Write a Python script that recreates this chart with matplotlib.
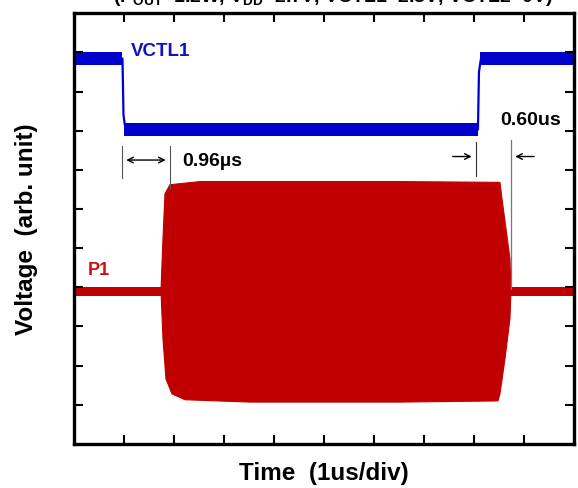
import matplotlib
matplotlib.use('Agg')
import matplotlib.pyplot as plt

plt.rcParams['font.family'] = ['Liberation Sans', 'DejaVu Sans']
plt.rcParams['font.weight'] = 'bold'
plt.rcParams['mathtext.fontset'] = 'custom'
plt.rcParams['mathtext.bf'] = 'Liberation Sans:bold'

# VCTL1 control trace (time in div, voltage in arb. unit)
vctl_t = [0.0, 0.97, 0.99, 1.03, 8.08, 8.10, 8.14, 10.0]
vctl_v = [9.84, 9.84, 8.40, 8.03, 8.03, 9.50, 9.84, 9.84]
vctl_high = 9.84
vctl_low = 8.03
vctl_noise = 0.16

# P1 RF output: idle level and burst envelope
p1_level = 3.90
p1_noise = 0.11
p1_on = 1.74
p1_off = 8.74
env_top_t = [1.74, 1.78, 1.82, 1.92, 2.52, 4.52, 6.52, 8.52, 8.56, 8.64, 8.72, 8.74]
env_top_v = [3.91, 5.24, 6.39, 6.62, 6.70, 6.70, 6.70, 6.68, 6.27, 5.50, 4.73, 3.91]
env_bot_t = [1.74, 1.78, 1.84, 1.96, 2.22, 3.52, 6.52, 8.48, 8.52, 8.62, 8.72, 8.74]
env_bot_v = [3.91, 2.69, 1.66, 1.28, 1.13, 1.07, 1.07, 1.10, 1.28, 2.17, 3.20, 3.91]

# timing marks
delay_on = 0.96
delay_off = 0.60

blue = '#0000CC'
red = '#C00000'

fig = plt.figure(figsize=(5.78, 4.89), dpi=100)
ax = fig.add_axes([0.128, 0.090, 0.865, 0.881])

# burst
ax.fill(env_top_t + env_bot_t[::-1], env_top_v + env_bot_v[::-1], color=red, lw=0.8, ec=red)
# idle parts
for a, b in [(0.0, p1_on + 0.05), (p1_off - 0.05, 10.0)]:
    ax.fill_between([a, b], p1_level - p1_noise, p1_level + p1_noise, color=red, lw=0)

# VCTL1
ax.plot(vctl_t, vctl_v, color=blue, lw=1.6)
ax.fill_between([0.0, 0.97], vctl_high - vctl_noise, vctl_high + vctl_noise, color=blue, lw=0)
ax.fill_between([1.0, 8.08], vctl_low - vctl_noise, vctl_low + vctl_noise, color=blue, lw=0)
ax.fill_between([8.12, 10.0], vctl_high - vctl_noise, vctl_high + vctl_noise, color=blue, lw=0)

ax.text(1.14, 10.05, 'VCTL1', color='#1010CC', fontsize=13.5, fontweight='bold', va='center')
ax.text(0.28, 4.45, 'P1', color='#CC1010', fontsize=13, fontweight='bold', va='center')

# 0.96us mark
t1 = vctl_t[1] - 0.01
ax.plot([t1, t1], [6.78, 7.60], color='#555555', lw=0.8)
ax.plot([t1 + delay_on, t1 + delay_on], [6.52, 7.62], color='#555555', lw=0.8)
ax.annotate('', xy=(t1 + 0.03, 7.25), xytext=(t1 + delay_on - 0.03, 7.25),
            arrowprops=dict(arrowstyle='<->', color='black', lw=1.0))
ax.text(2.16, 7.25, '0.96\u00b5s', fontsize=14, fontweight='bold', va='center')

# 0.60us mark
t2 = 8.04
ax.plot([t2, t2], [6.85, 7.72], color='#333333', lw=0.8)
ax.plot([t2 + delay_off + 0.1, t2 + delay_off + 0.1], [3.96, 7.75], color='#777777', lw=0.9)
ax.annotate('', xy=(t2 - 0.03, 7.34), xytext=(7.52, 7.34),
            arrowprops=dict(arrowstyle='->', color='black', lw=1.0))
ax.annotate('', xy=(t2 + delay_off + 0.13, 7.34), xytext=(9.26, 7.34),
            arrowprops=dict(arrowstyle='->', color='black', lw=1.0))
ax.text(8.52, 8.29, '0.60us', fontsize=14, fontweight='bold', va='center')

ax.set_xlim(0, 10)
ax.set_ylim(0, 11)
ax.set_xticks(range(1, 10))
ax.set_yticks(range(1, 11))
ax.tick_params(direction='in', length=6.5, width=1.5, top=True, right=True,
               labelbottom=False, labelleft=False)
for s in ax.spines.values():
    s.set_linewidth(2.4)

ax.set_xlabel('Time  (1us/div)', fontsize=17.5, fontweight='bold', labelpad=12)
ax.set_ylabel('Voltage  (arb. unit)', fontsize=17.5, fontweight='bold', labelpad=26)

# title is cut off at the top edge
fig.text(0.575, 1 - 2 / 489.0,
         r'(P$_\mathbf{OUT}$=1.2W, V$_\mathbf{DD}$=2.7V, VCTL1=2.8V, VCTL2=0V)',
         fontsize=14, fontweight='bold', ha='center', va='baseline')

fig.savefig('out.png', dpi=100)
